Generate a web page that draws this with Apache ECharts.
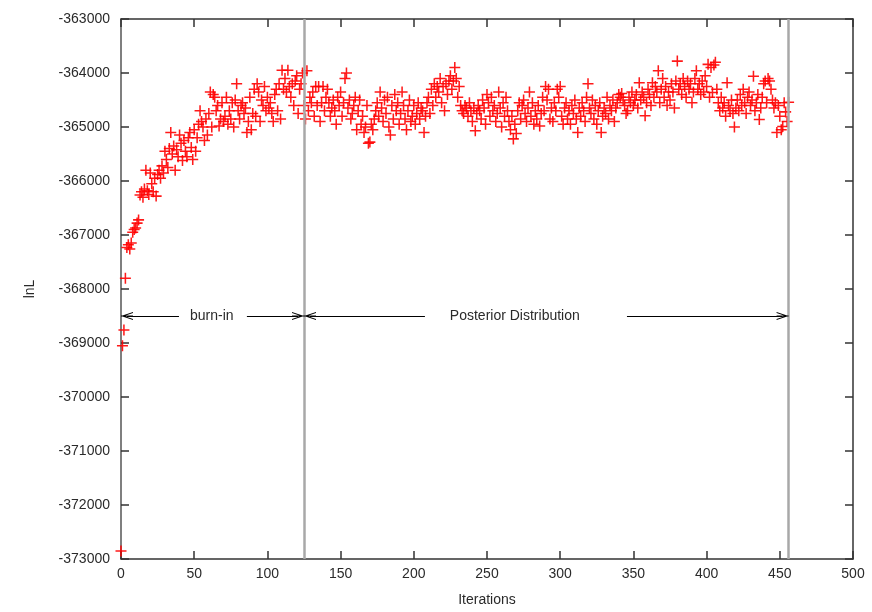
<!DOCTYPE html>
<html>
<head>
<meta charset="utf-8">
<script src="https://cdn.jsdelivr.net/npm/echarts@6/dist/echarts.min.js"></script>
<style>html,body{margin:0;padding:0;background:#fff;overflow:hidden}#c{width:872px;height:612px}</style>
</head>
<body>
<div id="c"></div>
<script>
// lnL value for each iteration 0..456
var lnL = [
-372850,-369050,-368760,-367800,-367230,-367180,-367260,-367150,-366950,-366900,
-366870,-366780,-366720,-366260,-366200,-366300,-366150,-365800,-366180,-366250,
-365850,-366050,-366200,-365950,-366280,-365880,-365800,-365950,-365720,-365850,
-365450,-365600,-365750,-365400,-365100,-365500,-365350,-365800,-365420,-365550,
-365150,-365300,-365620,-365250,-365450,-365550,-365200,-365100,-365380,-365600,
-365050,-365450,-365200,-364950,-364700,-364900,-365000,-365250,-364850,-365150,
-364750,-364350,-365000,-364400,-364450,-364700,-364600,-364980,-364850,-364550,
-364900,-364800,-364450,-364950,-364700,-364850,-364550,-365000,-364500,-364200,
-364700,-364850,-364600,-364550,-364750,-364650,-365100,-364900,-364450,-365050,
-364750,-364300,-364800,-364200,-364350,-364900,-364500,-364600,-364250,-364700,
-364450,-364650,-364550,-364750,-364900,-364400,-364300,-364700,-364200,-364850,
-363950,-364300,-364100,-364350,-363950,-364250,-364450,-364200,-364600,-364150,
-364050,-364750,-364300,-364200,-364000,
-364600,-364850,-363960,-364700,-364450,-364550,-364350,-364800,-364250,-364600,
-364250,-364900,-364550,-364250,-364700,-364450,-364300,-364550,-364800,-364650,
-364500,-364700,-364950,-364450,-364600,-364350,-364800,-364550,-364100,-364000,
-364650,-364500,-364850,-364750,-364600,-364450,-365050,-364700,-364500,-364950,
-364800,-365100,-365000,-364600,-365300,-365280,-364950,-365050,-364850,-364700,
-364550,-364800,-364350,-364650,-364900,-364500,-364750,-364450,-365000,-365150,
-364600,-364850,-364400,-364700,-364550,-364950,-364750,-364350,-364600,-364850,
-365050,-364700,-364500,-364900,-364800,-364600,-364950,-364750,-364550,-364850,
-364650,-364700,-365100,-364800,-364550,-364450,-364750,-364300,-364600,-364200,
-364450,-364250,-364350,-364100,-364550,-364250,-364700,-364200,-364400,-364150,
-364050,-364300,-364150,-363900,-364100,-364450,-364250,-364600,-364700,-364750,
-364600,-364650,-364800,-364550,-364700,-364900,-364650,-365070,-364750,-364600,
-364700,-364850,-364500,-364650,-364950,-364400,-364550,-364800,-364450,-364700,
-364600,-364900,-364750,-364350,-364650,-365000,-364550,-364800,-364450,-364700,
-364900,-365050,-364800,-365220,-364950,-365120,-364700,-364550,-364850,-364600,
-364500,-364750,-364900,-364650,-364350,-364800,-364550,-364950,-364700,-364850,
-364600,-364980,-364750,-364450,-364700,-364250,-364500,-364300,-364850,-364650,
-364900,-364550,-364700,-364300,-364450,-364250,-364800,-364950,-364650,-364550,
-364850,-364700,-364950,-364600,-364750,-364500,-364850,-365100,-364650,-364800,
-364550,-364700,-364900,-364450,-364200,-364650,-364750,-364500,-364850,-364600,
-364950,-364700,-364550,-365100,-364800,-364650,-364750,-364450,-364850,-364600,
-364700,-364500,-364900,-364650,-364550,-364400,-364450,-364380,-364500,-364600,
-364750,-364700,-364450,-364550,-364350,-364600,-364500,-364400,-364650,-364180,
-364500,-364350,-364450,-364790,-364550,-364300,-364400,-364600,-364180,-364450,
-364250,-364350,-363960,-364550,-364300,-364100,-364450,-364250,-364600,-364350,
-364500,-364200,-364350,-364650,-364150,-363780,-364300,-364200,-364400,-364100,
-364250,-364450,-364150,-364300,-364200,-364550,-364350,-364100,-363960,-364300,
-364200,-364400,-364150,-364350,-364050,-364250,-363840,-364450,-363900,-364360,
-363850,-363800,-364300,-364550,-364700,-364450,-364650,-364550,-364800,-364180,
-364600,-364700,-364500,-364750,-365000,-364650,-364500,-364700,-364400,-364600,
-364300,-364550,-364750,-364450,-364350,-364600,-364500,-364060,-364700,-364550,
-364400,-364860,-364650,-364450,-364200,-364150,-364550,-364100,-364150,-364300,
-364500,-364650,-364550,-365100,-364600,-364800,-365050,-364990,-364550,-364720,-364900,-364540
];
var iterations = lnL.map(function (v, i) { return i; });

// phase boundaries (iterations) and annotation
var boundaries = [0, 125, 456];
var phaseLabels = ['burn-in', 'Posterior Distribution'];
var labelX = [62, 269];          // iteration where each label sits
var gapEnds = [[39.6, 86], [207.6, 345.6]]; // line gaps around each label
var arrowY = -368500;

var xTicks = { min: 0, max: 500, interval: 50 };
var yTicks = { min: -373000, max: -363000, interval: 1000 };

var pts = iterations.map(function (x, i) { return [x, lnL[i]]; });

var plus = 'path://M4.3,0 H5.7 V4.3 H10 V5.7 H5.7 V10 H4.3 V5.7 H0 V4.3 H4.3 Z';
var chevron = 'path://M5,0 L10,10 L8.7,10 L5,2.6 L1.3,10 L0,10 Z M4.45,0 L5.55,0 L5.55,10 L4.45,10 Z';

var chart = echarts.init(document.getElementById('c'), null, { renderer: 'canvas' });
var txt = '#2a2a2a';
var axisCol = '#333';

// arrow offset: half the chevron length (6 px) in data units
var pxPerUnit = (872 - 121 - 19) / 500;
var off = 6 / pxPerUnit;

var arrowSegs = [];
for (var k = 0; k < 2; k++) {
  var a = boundaries[k], b = boundaries[k + 1];
  arrowSegs.push([{ coord: [a + off, arrowY], symbol: chevron }, { coord: [gapEnds[k][0], arrowY], symbol: 'none' }]);
  arrowSegs.push([{ coord: [gapEnds[k][1], arrowY], symbol: 'none' }, { coord: [b - off, arrowY], symbol: chevron }]);
}

chart.setOption({
  animation: false,
  backgroundColor: '#fff',
  textStyle: { fontFamily: 'Liberation Sans, Arial, sans-serif' },
  grid: { left: 121, right: 19, top: 19, bottom: 50 },
  xAxis: [{
    type: 'value', min: xTicks.min, max: xTicks.max, interval: xTicks.interval,
    name: 'Iterations', nameLocation: 'middle', nameGap: 34,
    nameTextStyle: { color: txt, fontSize: 14, fontFamily: 'Liberation Sans, Arial, sans-serif' },
    axisLine: { show: true, lineStyle: { color: axisCol, width: 1.5 } },
    axisTick: { show: true, inside: true, length: 8, lineStyle: { color: axisCol, width: 1.5 } },
    axisLabel: { color: txt, fontSize: 14, margin: 8 },
    splitLine: { show: false }
  }, {
    type: 'value', position: 'top', min: xTicks.min, max: xTicks.max, interval: xTicks.interval,
    axisLine: { show: true, onZero: false, lineStyle: { color: axisCol, width: 1.5 } },
    axisTick: { show: true, inside: true, length: 8, lineStyle: { color: axisCol, width: 1.5 } },
    axisLabel: { show: false }, splitLine: { show: false }
  }],
  yAxis: [{
    type: 'value', min: yTicks.min, max: yTicks.max, interval: yTicks.interval,
    name: 'lnL', nameLocation: 'middle', nameGap: 84, nameRotate: 90,
    nameTextStyle: { color: txt, fontSize: 14, fontFamily: 'Liberation Sans, Arial, sans-serif' },
    axisLine: { show: true, onZero: false, lineStyle: { color: '#555', width: 1.5 } },
    axisTick: { show: true, inside: true, length: 8, lineStyle: { color: axisCol, width: 1.5 } },
    axisLabel: { color: txt, fontSize: 14, margin: 11, formatter: function (v) { return String(v); } },
    splitLine: { show: false }
  }, {
    type: 'value', position: 'right', min: yTicks.min, max: yTicks.max, interval: yTicks.interval,
    axisLine: { show: true, onZero: false, lineStyle: { color: axisCol, width: 1.5 } },
    axisTick: { show: true, inside: true, length: 8, lineStyle: { color: axisCol, width: 1.5 } },
    axisLabel: { show: false }, splitLine: { show: false }
  }],
  series: [{
    type: 'scatter',
    data: pts,
    symbol: plus,
    symbolSize: 11,
    itemStyle: { color: '#ff0000', opacity: 0.9 },
    z: 3,
    silent: true
  }, {
    type: 'line',
    data: [],
    silent: true,
    z: 2,
    markLine: {
      silent: true,
      symbol: 'none',
      label: { show: false },
      lineStyle: { color: '#a8a8a8', width: 2.5, type: 'solid' },
      data: [{ xAxis: boundaries[1] }, { xAxis: boundaries[2] }]
    }
  }, {
    type: 'line',
    data: [],
    silent: true,
    z: 4,
    markLine: {
      silent: true,
      symbolSize: [8, 12],
      label: { show: false },
      lineStyle: { color: '#000', width: 1, type: 'solid' },
      itemStyle: { color: '#000' },
      data: arrowSegs
    },
    markPoint: {
      silent: true,
      symbol: 'circle',
      symbolSize: 0,
      label: { show: true, position: 'inside', color: txt, fontSize: 14, fontFamily: 'Liberation Sans, Arial, sans-serif', formatter: '{b}' },
      data: phaseLabels.map(function (t, i) { return { name: t, coord: [labelX[i], arrowY] }; })
    }
  }]
});
</script>
</body>
</html>
